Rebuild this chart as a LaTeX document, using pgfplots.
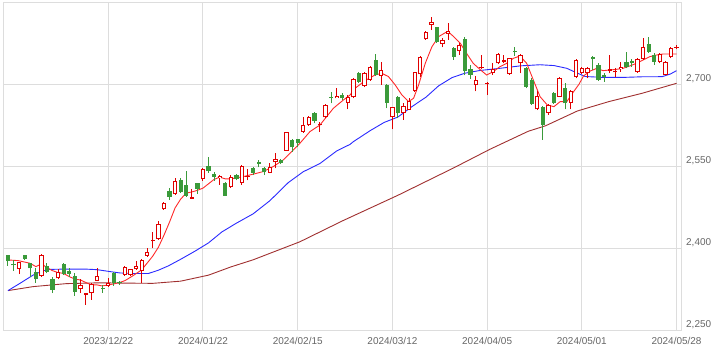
\documentclass[border=0pt]{standalone}
\usepackage{pgfplots}
\usepackage{pgfplotstable}
\usepackage{fontspec}
\setmainfont{Liberation Sans}
\pgfplotsset{compat=1.18}
\definecolor{upred}{HTML}{E00000}
\definecolor{dngreen}{HTML}{3A9A3A}
\definecolor{maA}{HTML}{FF2A2A}
\definecolor{maB}{HTML}{2A2AFF}
\definecolor{maC}{HTML}{A03030}
\definecolor{gridc}{HTML}{DDDDDD}
\definecolor{labc}{HTML}{666666}

\pgfplotstableread{
i o h l c
2 2362 2375 2353 2374.5
6 2349.5 2390 2348 2388
9 2345.3 2361.7 2343.4 2357.4
13 2325.2 2343.4 2319.1 2333.1
14 2314.8 2318.5 2296.5 2317.9
15 2317.9 2337.4 2305.7 2334.9
16 2341 2363.5 2340 2349.5
18 2331.3 2346.5 2330 2336.1
21 2351.4 2367.9 2349.6 2365.4
22 2351.4 2363 2349.6 2361.8
23 2361.8 2377 2360.6 2367.9
24 2359.3 2380 2336.2 2378.8
25 2386.7 2400.1 2384.9 2392.8
26 2412.9 2430.6 2400.1 2414
27 2416.6 2450.7 2415.4 2444.6
28 2471.4 2485.4 2470.2 2482.4
30 2499.4 2528 2497.6 2523.8
33 2491 2508 2489.7 2493
35 2526.2 2546.3 2523.8 2544.5
38 2528 2534.1 2515.9 2532.3
40 2511.6 2534 2509.8 2529.9
42 2520 2552 2516 2551
43 2530 2545 2524 2533
47 2538.4 2556.6 2537 2549.3
48 2557.2 2574.9 2546 2562.7
50 2578.6 2613 2578 2612
53 2613.3 2639.5 2611.4 2624.8
54 2624.8 2642 2623.6 2639.5
56 2625.4 2631.5 2613.3 2627.9
57 2639.5 2663.8 2637.6 2662
59 2674.2 2692.4 2674.2 2678.4
61 2666.2 2680.3 2654 2676
62 2676 2710.7 2674.2 2709
64 2696.7 2722.9 2694.3 2719.9
65 2707.7 2733.3 2706.5 2730.9
67 2715.6 2741.2 2698.6 2726
69 2639.5 2659 2617.6 2657.8
71 2646.8 2665.1 2634.6 2660.8
72 2652.9 2674.2 2652.9 2670
73 2688.2 2722.9 2686.4 2721.7
74 2718.1 2752.1 2714 2750.3
75 2782 2797.8 2780.8 2796
76 2808.2 2822.2 2799 2813.1
78 2773.5 2783.8 2767.4 2780.8
79 2791.8 2811.2 2780.8 2797.8
81 2760 2775 2754 2771
84 2698.5 2715 2687 2707.6
85 2729 2754 2727 2731
86 2700.3 2704.6 2680.2 2702.8
87 2721 2739.3 2716.8 2727.1
88 2738.1 2756.4 2736 2754.5
89 2741 2753 2738 2744
90 2718.6 2748.5 2717 2747.2
92 2738.1 2755.2 2719.8 2753.3
95 2654.1 2688.2 2652.8 2678.4
97 2648 2663.8 2644 2662
99 2677.2 2712.5 2677.2 2710.7
101 2666.2 2689.4 2654.1 2687.6
102 2713.7 2745.4 2710.7 2744.2
103 2721 2732 2718 2729
104 2719.8 2730.8 2710.7 2729
108 2724.7 2753.3 2719.8 2727.1
109 2721.6 2729 2713.7 2724.7
110 2727.1 2741.1 2722.9 2730.8
113 2722.9 2747.2 2721 2745.4
114 2745.4 2783.8 2744.2 2767.3
117 2741.1 2756.4 2738 2755.2
118 2716.8 2743 2716.8 2741.1
119 2750.3 2768.6 2747.2 2765.5
120 2766 2771.6 2763.7 2768
}\upc

\pgfplotstableread{
i o h l c
0 2387 2388 2368 2376
1 2372 2378 2359 2369
3 2387 2388 2379 2381
4 2373 2374 2348 2363.5
5 2357.4 2363.5 2337.4 2343.4
7 2368.4 2372.7 2354.4 2357.4
8 2344 2347 2318 2324
10 2371.5 2372.7 2351.4 2352.6
11 2359.3 2363.5 2348.3 2352.6
12 2349.5 2354.4 2313 2320.9
17 2328.2 2333.1 2319.1 2326.4
19 2355.6 2357.4 2331.3 2336.1
20 2338 2340 2333 2336
29 2504.9 2509.8 2488.5 2494.5
31 2525 2528 2501.8 2503.7
32 2515.9 2542 2494.5 2496.4
34 2518.9 2520 2499.4 2508
36 2550.6 2566.4 2538.4 2542
37 2536 2540.2 2523.8 2529.9
39 2520.1 2521.9 2495.8 2496.4
41 2534 2536 2524 2526
44 2546 2549 2534 2538
45 2557 2562 2548 2555
46 2546 2549 2534 2540
49 2561.5 2562.7 2554 2556.6
51 2598 2599.3 2576.7 2584.6
52 2599.3 2600.5 2584.6 2592
55 2646.8 2649.8 2628.5 2633.4
58 2676 2685.1 2665 2674.5
60 2680.3 2684.5 2671.1 2674.2
63 2721.1 2722.9 2702.8 2704.7
66 2744.3 2755.2 2715 2716.8
68 2698.6 2700.4 2656 2666.3
70 2676 2678.5 2637.7 2646.8
77 2804 2805.2 2776 2776.6
80 2765.6 2768.6 2744.3 2750.3
82 2783 2786 2716 2724
83 2727 2735 2710 2717
91 2761.2 2767.3 2751.5 2759.4
93 2729 2731 2692.5 2695.5
94 2707.6 2710.6 2662 2663.8
96 2658.9 2660.1 2598 2625.4
98 2683.3 2686.3 2663.8 2666.2
100 2692.4 2701.6 2654.1 2665
105 2750.3 2751.5 2725.9 2745.4
106 2735.1 2738 2706.4 2707.6
107 2716.8 2719.8 2704.6 2712.5
111 2741.1 2759.4 2729 2730.8
112 2743 2745.4 2732 2738.1
115 2773.4 2786.8 2757.6 2759.4
116 2753.3 2756.4 2735.1 2741.1
}\dnc

\pgfplotstableread{
i v
0 2378.8
1.85 2377.5
3.95 2372.7
5 2366.6
6.05 2371.5
6.9 2365.4
7.95 2359.3
9 2355.6
9.9 2354.4
11 2348.3
12.1 2343.4
13 2342.2
14 2337.4
15 2333.1
16 2333.1
16.9 2331.3
18 2333.1
19 2335
20 2337.4
21 2341
22.2 2348.4
24 2360.6
25.2 2375.8
26 2386
27 2402
28 2424
29 2448
30 2474
31 2490
32 2501
33 2503
34 2506
35 2510
36 2518
37 2526
38 2530
39 2527
40 2527
42.2 2531
43.4 2534
45.8 2540.2
47.6 2549.3
49.4 2561.5
50.6 2573.7
52.4 2592
54.2 2613.3
56 2625.4
57.2 2640.7
58.4 2655.9
60.2 2671.1
61.4 2680.3
62.3 2692.5
64.1 2706.5
65.9 2716.9
67.1 2719.9
68.3 2713.8
69.5 2698.6
70.7 2680.3
71.9 2668.1
72.8 2674.2
73.7 2698.6
74.9 2738.2
76.1 2768.6
77.3 2786.9
78.5 2794.2
79.1 2795.4
80.3 2783.8
81.2 2774.6
82.3 2756.4
83.5 2738.1
84.7 2727.1
85.9 2716.8
87.1 2722.9
88.3 2732
89.5 2738.1
90.7 2747.2
91.9 2751.5
93.1 2738.1
94.3 2707.6
95.5 2677.2
96.8 2662
98 2658.9
99.1 2668.1
100.3 2668.1
101.5 2686
102.5 2700
103.3 2715
104.5 2724
105.7 2729
106.8 2724.7
108 2725.9
109.2 2727.1
110.4 2729
111.6 2733.2
112.8 2738.1
114 2744.2
115.2 2750.3
116.4 2753.3
117.6 2755.2
118.8 2755.2
120 2755.2
}\maAtab

\pgfplotstableread{
i v
0 2322.7
2.15 2336
4.5 2351
6.3 2359
7.5 2361.5
10 2362
14 2362
16 2361
18.3 2357.5
20.1 2355
22.5 2354
25.2 2354
27 2360
28.8 2368
31 2380
33.6 2395
36 2410
38.4 2430
41 2446
44 2463
47 2487
50.3 2520
53 2540
56 2555
59 2578
61.4 2590
62 2595
65 2615
67.5 2630
70 2640
72.5 2659
75 2676
77.3 2697
79.7 2712
82 2720
84.7 2725
88.3 2729
92 2733.5
95.5 2735.5
98 2734
100.3 2729
101.8 2722
103.6 2714
106.6 2712.5
110.8 2712.5
113.8 2713.5
117.4 2713.7
118.9 2718.6
120 2724.7
}\maBtab

\pgfplotstableread{
i v
0 2322.7
4.5 2330
10.5 2335.5
16.5 2337
20 2336.5
26 2336
31 2340
36 2351
40 2366
44 2379
52.4 2412
60 2450
70 2497
80 2547
86.5 2581
93.4 2614
96.5 2624
102.2 2651
107.8 2668
113.8 2683.3
120 2701.6
}\maCtab

\begin{document}
\begin{tikzpicture}
\path[use as bounding box] (0,0) rectangle (719bp,-356bp);
\begin{axis}[
  at={(3.3bp,-2.1bp)}, anchor=north west,
  scale only axis, width=677.7bp, height=328.3bp,
  xmin=-0.84, xmax=120.8, ymin=2250, ymax=2850,
  axis line style={draw=gridc},
  grid=major, major grid style={draw=gridc, line width=1bp},
  major tick length=0pt,
  ytick={2250,2400,2550,2700},
  yticklabels={{2,250},{2,400},{2,550},{2,700}},
  yticklabel pos=right,
  yticklabel style={anchor=base west, inner sep=0pt, xshift=5bp, yshift=3bp},
  xtick={18,35,52,69,86,103,120},
  xticklabels={2023/12/22,2024/01/22,2024/02/15,2024/03/12,2024/04/05,2024/05/01,2024/05/28},
  xticklabel style={anchor=north, inner sep=0pt, yshift=-7bp},
  tick label style={font=\fontsize{10}{12}\selectfont, text=labc},
  clip=true,
]
% moving averages
\addplot[maC, line width=0.9bp, mark=none] table[x=i, y=v] {\maCtab};
\addplot[maB, line width=0.9bp, mark=none] table[x=i, y=v] {\maBtab};
\addplot[maA, line width=0.9bp, mark=none] table[x=i, y=v] {\maAtab};
% green wicks
\addplot[draw=none, mark=none, forget plot,
  error bars/.cd, y dir=plus, y explicit, error mark=none,
  error bar style={line width=1bp, draw=dngreen}]
  table[x=i, y=l, y error expr={\thisrow{h}-\thisrow{l}}] {\dnc};
% red wicks
\addplot[draw=none, mark=none, forget plot,
  error bars/.cd, y dir=plus, y explicit, error mark=none,
  error bar style={line width=1bp, draw=upred}]
  table[x=i, y=l, y error expr={\thisrow{h}-\thisrow{l}}] {\upc};
% green bodies
\addplot[draw=none, mark=none, forget plot,
  error bars/.cd, y dir=plus, y explicit, error mark=none,
  error bar style={line width=4.2bp, draw=dngreen}]
  table[x=i, y=c, y error expr={max(\thisrow{o}-\thisrow{c},1.8)}] {\dnc};
% red bodies (outline)
\addplot[draw=none, mark=none, forget plot,
  error bars/.cd, y dir=plus, y explicit, error mark=none,
  error bar style={line width=4.2bp, draw=upred}]
  table[x=i, y=o, y error expr={max(\thisrow{c}-\thisrow{o},1.8)}] {\upc};
% red bodies (hollow inside)
\addplot[draw=none, mark=none, forget plot,
  error bars/.cd, y dir=plus, y explicit, error mark=none,
  error bar style={line width=2.2bp, draw=white}]
  table[x=i, y expr={\thisrow{o}+1.83}, y error expr={max(\thisrow{c}-\thisrow{o}-3.66,0)}] {\upc};
\end{axis}
\end{tikzpicture}
\end{document}
